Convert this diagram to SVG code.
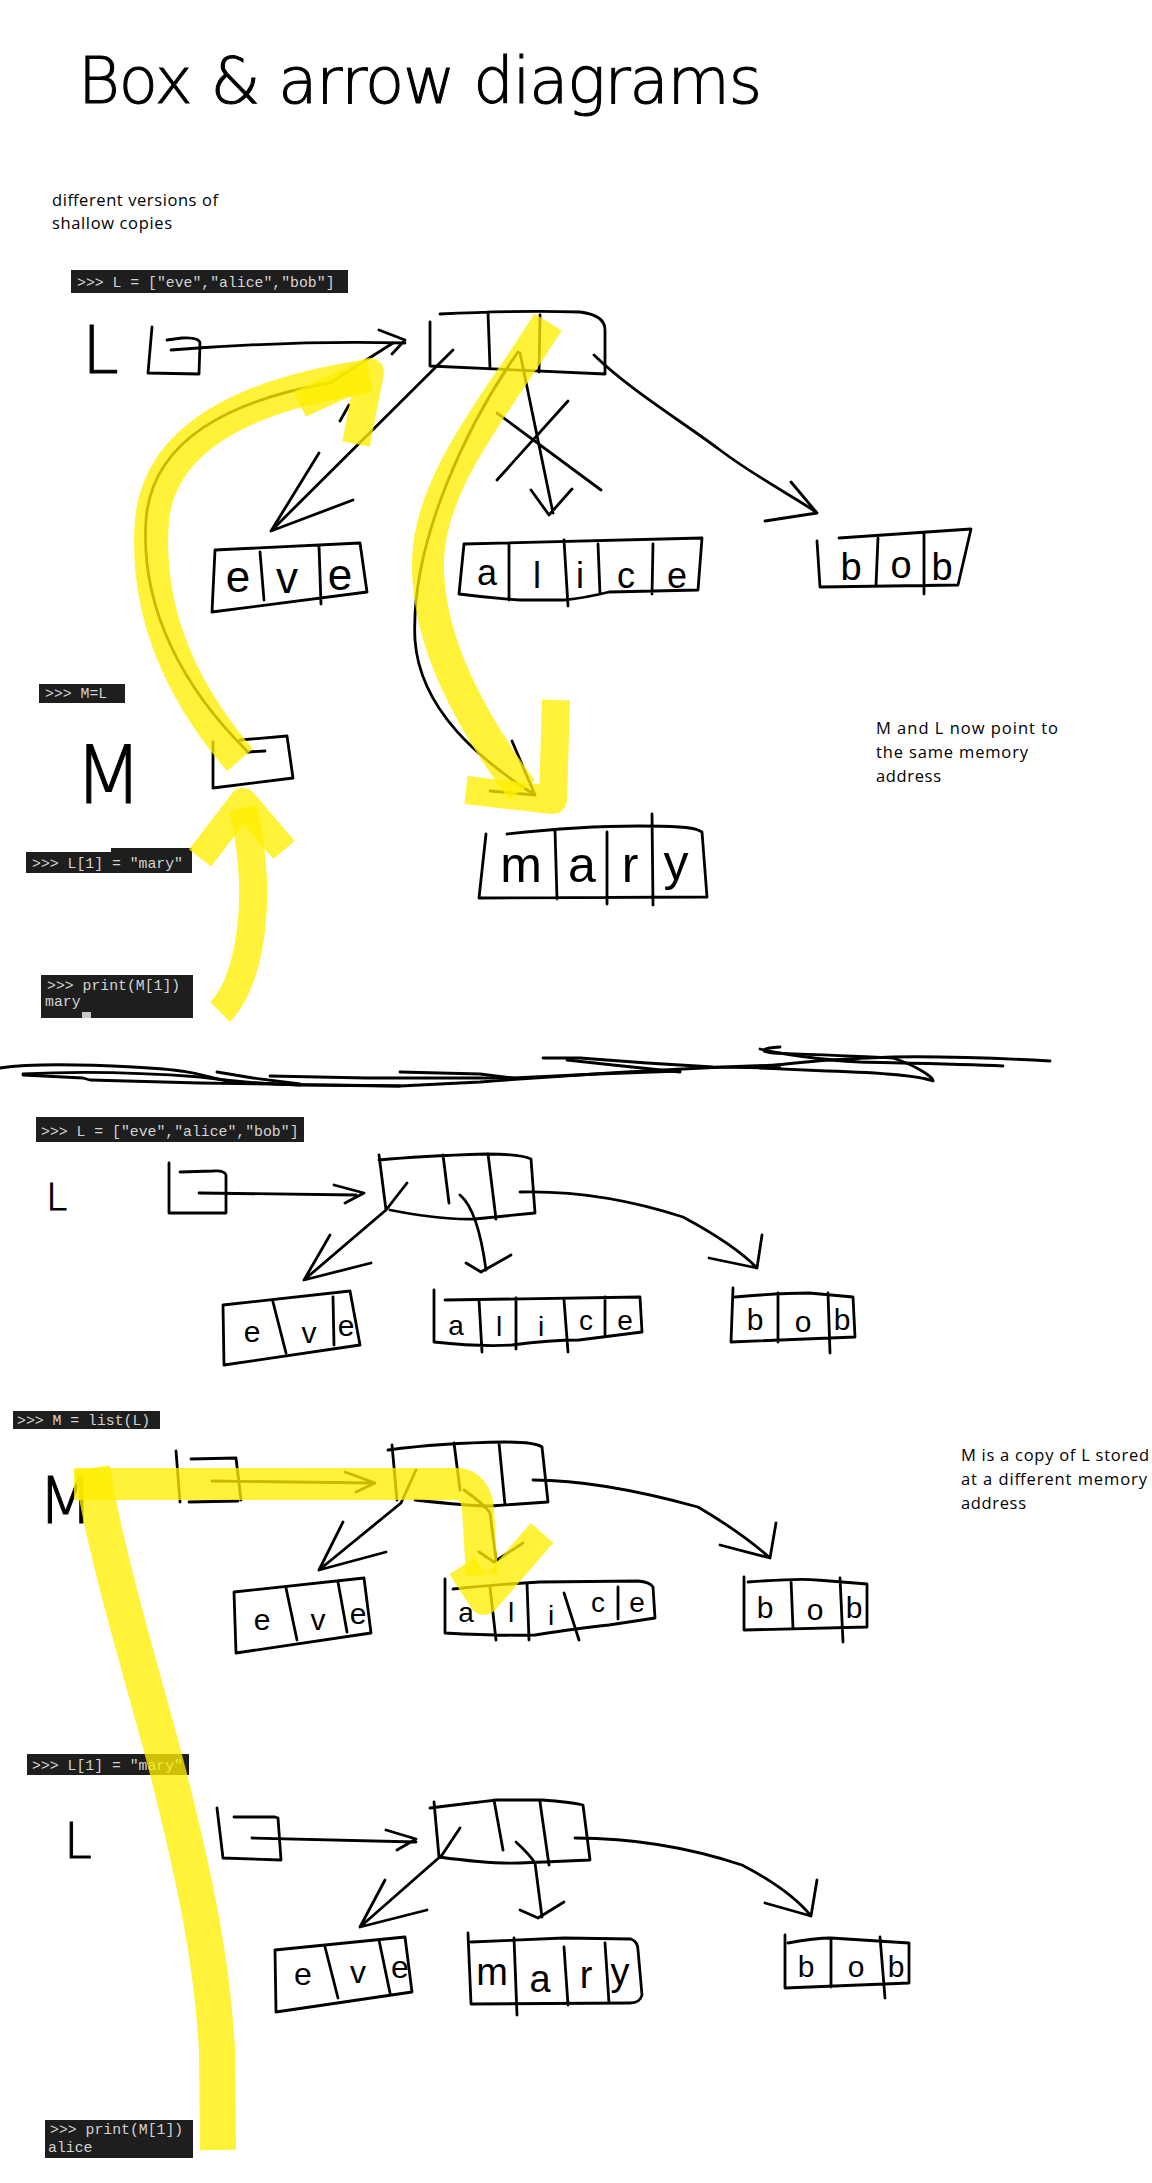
<svg xmlns="http://www.w3.org/2000/svg" width="1152" height="2183" viewBox="0 0 1152 2183">
<style>
.ink{fill:none;stroke:#000;stroke-width:2.8;stroke-linecap:round;stroke-linejoin:round}
.hl{fill:none;stroke:#ffee00;stroke-opacity:0.78;stroke-linecap:butt;stroke-linejoin:round}
.code{fill:#1e1e1e}
.ct{font-family:"Liberation Mono",monospace;font-size:14.8px;fill:#d4d4d4}
.note{font-family:"Open Sans","Liberation Sans",sans-serif;font-size:16.5px;fill:#000}
.hw{font-family:"Liberation Sans",sans-serif;fill:#000;text-anchor:middle}
.hwl{font-family:"DejaVu Sans",sans-serif;font-weight:200;fill:#000;stroke:#000;stroke-width:1}
</style>
<rect width="1152" height="2183" fill="#fff"/>

<g id="title"><text class="hwl" x="78" y="103" font-size="64" textLength="684" lengthAdjust="spacing">Box &amp; arrow diagrams</text></g>

<g id="note-shallow"><text class="note" x="52" y="206" textLength="166" lengthAdjust="spacing">different versions of</text><text class="note" x="52" y="229" textLength="120" lengthAdjust="spacing">shallow copies</text></g>

<!-- code snippets -->
<g id="code-1"><rect class="code" x="71" y="270" width="277" height="23"/><text class="ct" x="77" y="287">&gt;&gt;&gt; L = ["eve","alice","bob"]</text></g>
<g id="code-2"><rect class="code" x="39" y="684" width="86" height="19"/><text class="ct" x="45" y="698">&gt;&gt;&gt; M=L</text></g>
<g id="code-3"><rect class="code" x="26" y="852" width="166" height="21"/><rect class="code" x="111" y="848" width="81" height="6"/><text class="ct" x="32" y="868">&gt;&gt;&gt; L[1] = "mary"</text></g>
<g id="code-4"><rect class="code" x="41" y="975" width="152" height="43"/><text class="ct" x="47" y="990">&gt;&gt;&gt; print(M[1])</text><text class="ct" x="45" y="1006">mary</text><rect x="82" y="1012" width="9" height="6" fill="#c8c8c8"/></g>
<g id="code-5"><rect class="code" x="36" y="1117" width="268" height="25"/><text class="ct" x="41" y="1136">&gt;&gt;&gt; L = ["eve","alice","bob"]</text></g>
<g id="code-6"><rect class="code" x="13" y="1411" width="147" height="18"/><text class="ct" x="17" y="1425">&gt;&gt;&gt; M = list(L)</text></g>
<g id="code-7"><rect class="code" x="27" y="1754" width="162" height="21"/><text class="ct" x="32" y="1770">&gt;&gt;&gt; L[1] = "mary"</text></g>
<g id="code-8"><rect class="code" x="45" y="2120" width="148" height="38"/><text class="ct" x="50" y="2134">&gt;&gt;&gt; print(M[1])</text><text class="ct" x="48" y="2152">alice</text></g>

<g id="note-same"><text class="note" x="876" y="734" textLength="182" lengthAdjust="spacing">M and L now point to</text><text class="note" x="876" y="758" textLength="152" lengthAdjust="spacing">the same memory</text><text class="note" x="876" y="782" textLength="65" lengthAdjust="spacing">address</text></g>
<g id="note-copy"><text class="note" x="961" y="1461" textLength="188" lengthAdjust="spacing">M is a copy of L stored</text><text class="note" x="961" y="1485" textLength="186" lengthAdjust="spacing">at a different memory</text><text class="note" x="961" y="1509" textLength="65" lengthAdjust="spacing">address</text></g>

<!-- ===== Section 1 ===== -->
<g id="s1-L"><text class="hwl" x="82" y="373" font-size="66">L</text></g>
<g id="s1-L-ptr"><path class="ink" d="M152,327 L148,373 L199,374 L200,343 Q199,337 182,338 L167,340"/></g>
<g id="s1-list"><path class="ink" d="M440,314 Q520,310 580,312 Q605,315 605,330 L605,374 M430,322 L430,366 Q500,369 605,374 M488,312 L490,368 M540,315 L539,372"/></g>
<g id="s1-eve"><path class="ink" d="M215,550 L360,543 L367,592 L212,612 Z M260,552 L264,600 M319,546 L321,604"/><text class="hw" font-size="44"><tspan x="238" y="592">e</tspan><tspan x="287" y="593">v</tspan><tspan x="340" y="590">e</tspan></text></g>
<g id="s1-alice"><path class="ink" d="M464,544 L702,538 L698,590 L609,592 Q585,598 564,600 L520,600 Q490,598 459,594 L464,544 M509,544 L509,600 M564,540 L568,606 M598,544 L600,594 M653,544 L652,594"/><text class="hw" font-size="36"><tspan x="487" y="585">a</tspan><tspan x="537" y="588">l</tspan><tspan x="580" y="588">i</tspan><tspan x="626" y="588">c</tspan><tspan x="677" y="588">e</tspan></text></g>
<g id="s1-bob"><path class="ink" d="M817,541 L820,587 L958,585 L971,529 L839,538 M878,538 L876,585 M924,533 L924,594"/><text class="hw" font-size="38"><tspan x="851" y="580">b</tspan><tspan x="901" y="578">o</tspan><tspan x="942" y="580">b</tspan></text></g>
<g id="s1-M"><text class="hwl" x="74" y="803" font-size="80">M</text></g>
<g id="s1-M-ptr"><path class="ink" d="M240,740 L287,736 L293,778 L213,788 L213,742 M247,752 L265,751"/></g>
<g id="s1-mary"><path class="ink" d="M507,834 Q580,826 638,826 Q690,826 698,830 L702,832 L707,897 L479,898 L486,834 M555,830 L557,899 M607,832 L607,904 M652,814 L653,905"/><text class="hw" font-size="50"><tspan x="521" y="882">m</tspan><tspan x="582" y="882">a</tspan><tspan x="630" y="882">r</tspan><tspan x="676" y="880">y</tspan></text></g>

<g id="connectors">
<!-- section 1 -->
<path class="ink" d="M171,350 Q300,340 405,343 M379,330 L405,340 L392,354"/>
<path class="ink" d="M453,350 L271,531 M319,453 L271,531 L353,500"/>
<path class="ink" d="M520,353 L553,513 M531,490 L549,515 L572,489 M497,413 L601,490 M568,401 L497,480"/>
<path class="ink" d="M594,355 C630,390 680,420 720,450 S800,500 817,513 M791,482 L817,513 L765,521"/>
<path class="ink" d="M248,752 C185,690 140,610 146,520 C152,440 230,400 330,383 L393,343 M340,421 L349,405"/>
<path class="ink" d="M518,352 C470,420 410,540 415,640 C420,710 480,760 535,795 M512,741 L535,795 L490,791"/>
<!-- section 2 -->
<path class="ink" d="M199,1193 L356,1195 M334,1185 L364,1193 L345,1203"/>
<path class="ink" d="M407,1183 L386,1210 L304,1280 M330,1235 L304,1280 L371,1263"/>
<path class="ink" d="M460,1195 Q478,1210 486,1270 M466,1263 L481,1272 L511,1255"/>
<path class="ink" d="M520,1192 Q600,1190 683,1217 Q735,1245 757,1268 M762,1235 L757,1268 L709,1258"/>
<!-- section 3 -->
<path class="ink" d="M212,1481 L375,1483 M345,1472 L375,1483 L356,1492"/>
<path class="ink" d="M416,1470 L401,1503 L319,1570 M343,1522 L319,1570 L386,1552"/>
<path class="ink" d="M464,1490 Q485,1505 490,1513 L496,1560 M479,1552 L494,1562 L523,1543"/>
<path class="ink" d="M533,1480 Q600,1480 698,1507 Q742,1533 770,1558 M776,1523 L770,1558 L720,1545"/>
<!-- section 4 -->
<path class="ink" d="M252,1838 L416,1842 M386,1830 L416,1839 L397,1850"/>
<path class="ink" d="M460,1828 L442,1855 L360,1927 M385,1880 L360,1927 L427,1910"/>
<path class="ink" d="M516,1842 Q530,1855 535,1863 L542,1917 M520,1910 L538,1918 L564,1902"/>
<path class="ink" d="M575,1838 Q660,1838 742,1865 Q790,1890 811,1916 M817,1880 L811,1916 L765,1903"/>
</g>

<!-- divider scribble -->
<g id="divider">
<path class="ink" d="M0,1068 C20,1065 57,1063 133,1067 S200,1077 233,1082 L300,1085 L400,1086 L480,1082 C560,1076 680,1068 780,1065"/>
<path class="ink" d="M23,1074 C80,1071 133,1072 200,1077 C230,1081 260,1084 300,1085"/>
<path class="ink" d="M23,1075 L83,1078 L90,1080 L200,1083 L400,1086"/>
<path class="ink" d="M217,1072 L253,1078 L300,1084"/>
<path class="ink" d="M270,1076 L367,1078 L513,1078"/>
<path class="ink" d="M400,1072 L480,1074 L513,1078 L597,1074 L680,1071"/>
<path class="ink" d="M543,1058 L580,1058 L647,1063 L713,1067 L780,1068"/>
<path class="ink" d="M567,1060 L613,1065 L680,1072"/>
<path class="ink" d="M780,1047 C760,1048 760,1052 773,1053 C800,1054 860,1056 893,1058 C915,1065 935,1078 933,1081 C920,1076 893,1073 827,1071 L760,1068"/>
<path class="ink" d="M760,1067 C800,1062 850,1058 893,1057 C930,1056 1000,1058 1050,1061"/>
<path class="ink" d="M760,1049 C775,1053 820,1060 860,1062 C900,1063 960,1064 1003,1066"/>
</g>

<!-- ===== Section 2 ===== -->
<g id="s2-L"><text class="hwl" x="46" y="1210" font-size="38">L</text></g>
<g id="s2-L-ptr"><path class="ink" d="M169,1163 L169,1213 L226,1213 L226,1175 Q224,1170 213,1171 L180,1172"/></g>
<g id="s2-list"><path class="ink" d="M379,1160 Q420,1156 486,1154 Q520,1154 531,1159 L535,1213 L475,1219 Q440,1220 390,1210 M379,1155 L386,1210 M443,1155 L449,1203 M488,1154 L496,1219"/></g>
<g id="s2-eve"><path class="ink" d="M223,1305 L350,1291 L360,1345 L224,1365 Z M273,1302 L286,1353 M333,1297 L334,1345"/><text class="hw" font-size="30"><tspan x="252" y="1342">e</tspan><tspan x="309" y="1343">v</tspan><tspan x="346" y="1336">e</tspan></text></g>
<g id="s2-alice"><path class="ink" d="M434,1290 L434,1342 Q480,1347 512,1345 Q550,1340 579,1340 L642,1332 L640,1297 L445,1300 M479,1300 L482,1352 M516,1298 L516,1349 M564,1300 L568,1352 M605,1297 L605,1336"/><text class="hw" font-size="28"><tspan x="456" y="1335">a</tspan><tspan x="499" y="1336">l</tspan><tspan x="541" y="1336">i</tspan><tspan x="586" y="1330">c</tspan><tspan x="625" y="1330">e</tspan></text></g>
<g id="s2-bob"><path class="ink" d="M733,1288 L731,1342 L855,1337 L853,1297 L809,1293 Q780,1293 735,1297 M778,1293 L778,1342 M828,1293 L830,1353"/><text class="hw" font-size="30"><tspan x="755" y="1330">b</tspan><tspan x="803" y="1332">o</tspan><tspan x="842" y="1330">b</tspan></text></g>

<!-- ===== Section 3 ===== -->
<g id="s3-M"><text class="hwl" x="38" y="1523" font-size="64">M</text></g>
<g id="s3-L-ptr"><path class="ink" d="M176,1451 L180,1502 M191,1459 L236,1458 L241,1500 M189,1502 L238,1501"/></g>
<g id="s3-list"><path class="ink" d="M388,1450 Q440,1443 505,1442 Q535,1442 542,1447 L548,1502 L490,1506 Q470,1506 415,1500 M392,1445 L397,1500 M454,1443 L460,1490 M499,1443 L505,1505"/></g>
<g id="s3-eve"><path class="ink" d="M234,1592 L364,1578 L371,1633 L236,1653 Z M286,1588 L297,1640 M338,1582 L347,1632"/><text class="hw" font-size="30"><tspan x="262" y="1630">e</tspan><tspan x="318" y="1630">v</tspan><tspan x="358" y="1624">e</tspan></text></g>
<g id="s3-alice"><path class="ink" d="M445,1579 L445,1633 Q500,1636 535,1635 Q580,1628 609,1625 L655,1618 L653,1587 Q650,1582 638,1581 L540,1582 Q500,1584 453,1589 M490,1587 L496,1640 M527,1583 L529,1640 M564,1593 L579,1640 M618,1587 L618,1619"/><text class="hw" font-size="28"><tspan x="466" y="1622">a</tspan><tspan x="511" y="1622">l</tspan><tspan x="551" y="1625">i</tspan><tspan x="598" y="1612">c</tspan><tspan x="637" y="1612">e</tspan></text></g>
<g id="s3-bob"><path class="ink" d="M744,1577 L744,1630 L867,1627 L867,1584 L817,1580 Q800,1578 748,1582 M791,1580 L793,1628 M840,1578 L843,1642"/><text class="hw" font-size="30"><tspan x="765" y="1618">b</tspan><tspan x="815" y="1620">o</tspan><tspan x="854" y="1618">b</tspan></text></g>

<!-- ===== Section 4 ===== -->
<g id="s4-L"><text class="hwl" x="64" y="1858" font-size="50">L</text></g>
<g id="s4-L-ptr"><path class="ink" d="M217,1808 L223,1858 L281,1860 L278,1818 L275,1817 L234,1817"/></g>
<g id="s4-list"><path class="ink" d="M430,1808 Q470,1803 497,1800 L542,1800 Q570,1802 583,1805 L590,1860 L520,1863 Q490,1864 439,1857 M434,1802 L439,1857 M494,1800 L503,1850 M540,1802 L549,1865"/></g>
<g id="s4-eve"><path class="ink" d="M275,1950 L405,1937 L412,1992 L276,2012 Z M325,1947 L338,1998 M379,1940 L390,1993"/><text class="hw" font-size="32"><tspan x="303" y="1985">e</tspan><tspan x="358" y="1983">v</tspan><tspan x="400" y="1978">e</tspan></text></g>
<g id="s4-mary"><path class="ink" d="M468,1933 L471,2004 L630,2003 Q640,2003 642,1995 L638,1950 Q638,1942 631,1939 L564,1938 Q520,1940 471,1942 M514,1938 L517,2015 M564,1947 L568,2005 M605,1943 L609,2003"/><text class="hw" font-size="38"><tspan x="492" y="1985">m</tspan><tspan x="540" y="1992">a</tspan><tspan x="586" y="1988">r</tspan><tspan x="620" y="1985">y</tspan></text></g>
<g id="s4-bob"><path class="ink" d="M785,1935 L785,1988 L909,1983 L909,1943 L831,1938 Q815,1938 788,1943 M831,1938 L831,1987 M880,1937 L885,1998"/><text class="hw" font-size="30"><tspan x="806" y="1977">b</tspan><tspan x="856" y="1977">o</tspan><tspan x="896" y="1977">b</tspan></text></g>

<!-- highlighter strokes -->
<g id="highlights">
<path class="hl" stroke-width="34" d="M240,760 C180,690 145,610 152,520 C160,440 240,395 370,376"/>
<path class="hl" stroke-width="28" d="M300,404 L370,372 L356,444"/>
<path class="hl" stroke-width="32" d="M548,322 C500,400 430,480 428,560 C426,640 470,720 522,790"/>
<path class="hl" stroke-width="28" d="M466,790 L553,800 L556,700"/>
<path class="hl" stroke-width="28" d="M220,1012 C242,990 255,940 253,880 C251,840 246,820 243,808"/>
<path class="hl" stroke-width="28" d="M200,858 L243,802 L284,850"/>
<path class="hl" stroke-width="32" d="M74,1484 L458,1484 Q476,1486 478,1510 L482,1575"/>
<path class="hl" stroke-width="30" d="M462,1566 L484,1600 L542,1533"/>
<path class="hl" stroke-width="36" d="M92,1468 C106,1560 150,1700 170,1780 C195,1880 212,1960 217,2050 L218,2150"/>
</g>
</svg>
